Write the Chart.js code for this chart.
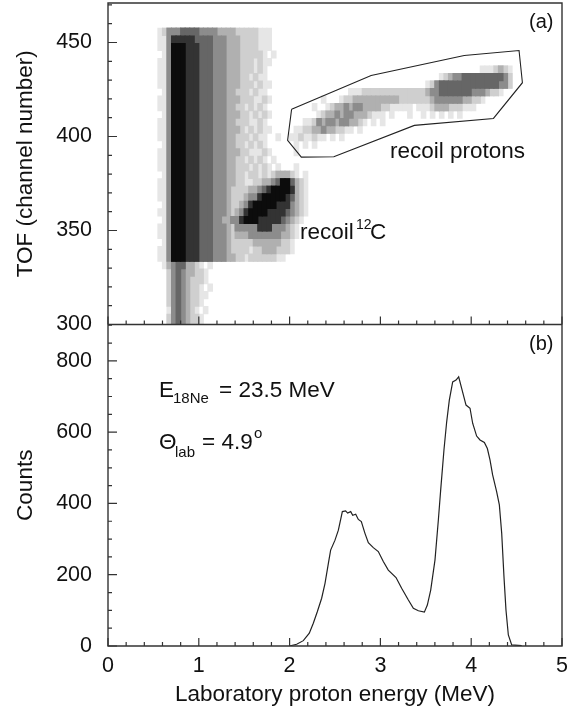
<!DOCTYPE html>
<html>
<head>
<meta charset="utf-8">
<script src="https://cdn.jsdelivr.net/npm/chart.js@4"></script>
<style>
  html, body { margin: 0; background: #fff; }
  canvas { display: block; }
</style>
</head>
<body>
<canvas id="chart" width="580" height="708"></canvas>
<script>
// tick values
const xTicks = [0, 1, 2, 3, 4, 5];
const xMinor = [0.2, 0.4, 0.6, 0.8, 1.2, 1.4, 1.6, 1.8, 2.2, 2.4, 2.6, 2.8, 3.2, 3.4, 3.6, 3.8, 4.2, 4.4, 4.6, 4.8];
const tofTicks = [300, 350, 400, 450];
const tofMinor = [310, 320, 330, 340, 360, 370, 380, 390, 410, 420, 430, 440, 460, 470];
const countTicks = [0, 200, 400, 600, 800];
const countMinor = [50, 100, 150, 250, 300, 350, 450, 500, 550, 650, 700, 750, 850, 900];

// proton spectrum, panel b
const curveX = [1.997, 2.078, 2.151, 2.217, 2.261, 2.305, 2.353, 2.390, 2.427, 2.452, 2.500, 2.537, 2.581, 2.617, 2.639, 2.673, 2.695, 2.728, 2.757, 2.790, 2.830, 2.867, 2.922, 2.977, 3.032, 3.087, 3.172, 3.234, 3.308, 3.363, 3.418, 3.484, 3.517, 3.554, 3.601, 3.638, 3.664, 3.700, 3.730, 3.759, 3.796, 3.833, 3.862, 3.895, 3.943, 3.987, 4.016, 4.060, 4.097, 4.145, 4.178, 4.207, 4.236, 4.280, 4.310, 4.336, 4.361, 4.383, 4.409, 4.446, 4.556];
const curveY = [0, 5, 15, 36, 64, 96, 134, 176, 232, 269, 297, 325, 377, 379, 373, 377, 367, 370, 355, 349, 316, 290, 276, 265, 237, 213, 192, 162, 129, 106, 99, 95, 115, 157, 241, 353, 438, 550, 629, 690, 741, 746, 755, 723, 676, 667, 625, 589, 578, 571, 554, 522, 480, 433, 396, 316, 194, 101, 31, 3, 1];

// gate drawn round the recoil protons, panel a
const gateX = [2.022, 1.978, 2.129, 2.487, 3.374, 4.245, 4.564, 4.527, 3.923, 2.898, 2.022];
const gateY = [414.5, 397.9, 389.0, 389.2, 405.9, 409.6, 428.6, 445.7, 443.1, 432.4, 414.5];

// 2D histogram, panel a. First row is the lowest in channel, each char is a grey level,
// one char = 0.05 MeV from 0.5 MeV, one row = 4 channels from 297.6
const histX0 = 0.5, histDx = 0.05, histY0 = 297.6, histDy = 4;
const histRows = [
  "...24 54322 1",
  "...24 54322 1",
  "...14 54321 .1",
  "...24 54322 1",
  "...24 54322 11",
  "...24 54322 1.1",
  "...24 54322 21",
  "...24 54332 21",
  "..134 55332 1.1",
  ".1147 77666 55544 43322 12222 2211.",
  ".1147 77666 55544 43222 21223 33222 1....",
  "..147 77666 55544 43222 22333 33322 1....",
  ".1147 77666 55544 43233 34444 44433 21...",
  ".1147 77666 55544 43244 44466 64443 21...",
  "..147 77666 55544 33446 77766 66654 321..",
  ".1147 77666 55544 43234 67777 66665 4321.",
  "..147 77666 55544 43223 46777 77666 4321.",
  ".1147 77666 55544 43222 34467 77776 5321.",
  ".1147 77666 55544 43222 23345 67777 6321.",
  ".1147 77666 55544 43322 11223 34577 5321.",
  "..147 77666 55544 43322 12212 12333 21.1.",
  ".1147 77666 55544 43322 21212 1.1.. .1",
  ".1147 77666 55544 43322 12121 .1...",
  ".1147 77666 55544 43332 21112 1.... .1...",
  "..147 77666 55544 43322 12121 ..... .1.1. 1....",
  ".1147 77666 55544 43322 21211 ..1.. 11211 211.1 .1...",
  ".1147 77666 55544 43332 12121 1.... .1122 33433 2211. 1....",
  ".1147 77666 55544 43322 21121 ..... ...11 24344 34433 21.1. 1....",
  "..147 77666 55544 43332 21212 1.... ..... .1233 43443 33211 1.1.. .1..1 .1.1. 1.1..",
  ".1147 77666 55544 43322 12121 ..... ..... 1..12 33434 43333 22111 11.11 12333 22211 1....",
  ".1147 77666 55544 43332 22112 1.... ..... ..1.. .1223 33333 33332 22222 23444 44433 221..",
  "..147 77666 55544 43322 21211 ..... ..... ..... ...11 12222 22222 22222 34455 55555 44432 21...",
  ".1147 77666 55544 43332 22121 1.... ..... ..... ..... ..... ..... ..... 12455 55555 55555 5442.",
  ".1147 77666 55544 43332 21211 ..... ..... ..... ..... ..... ..... ..... ...12 34455 55555 5542.",
  ".1147 77666 55544 43332 22121 ..... ..... ..... ..... ..... ..... ..... ..... ..... ..111 2321.",
  ".1147 77666 55544 43332 22121 1",
  "..147 77666 55544 43332 22221 .1",
  ".1147 77666 55544 43332 22211 1",
  ".1146 66665 55544 43332 22211 1",
  ".1244 45555 44443 33322 22211 1"
].map(r => r.replace(/ /g, ""));
const greys = ["#e6e6e6", "#cfcfcf", "#b0b0b0", "#8c8c8c", "#666666", "#333333", "#0c0c0c"];

// one floating bar per vertical run of cells at or above a grey level
function levelBars(level) {
  const bars = [];
  const cols = Math.max(...histRows.map(r => r.length));
  for (let i = 0; i < cols; i++) {
    let start = null;
    for (let k = 0; k <= histRows.length; k++) {
      const on = k < histRows.length && Number(histRows[k][i]) >= level;
      if (on && start === null) start = k;
      if (!on && start !== null) {
        bars.push({
          x: histX0 + histDx * (i + 0.5),
          y: [histY0 + histDy * start, histY0 + histDy * k]
        });
        start = null;
      }
    }
  }
  return bars;
}

const ink = "#333";
const font = '"Liberation Sans"';
const labelSize = 22.5;
const tickSize = 21.5;

const datasets = [
  {
    type: "line",
    data: curveX.map((x, i) => ({ x: x, y: curveY[i] })),
    yAxisID: "yB",
    borderColor: "#222",
    borderWidth: 1.2,
    pointRadius: 0,
    tension: 0
  },
  {
    type: "line",
    data: gateX.map((x, i) => ({ x: x, y: gateY[i] })),
    yAxisID: "yA",
    borderColor: "#222",
    borderWidth: 1.1,
    pointRadius: 0,
    tension: 0
  }
];
for (let level = greys.length; level >= 1; level--) {
  datasets.push({
    type: "bar",
    data: levelBars(level),
    yAxisID: "yA",
    backgroundColor: greys[level - 1],
    barThickness: 5,
    grouped: false
  });
}

// inward ticks, frame and the text inside the panels
const framePlugin = {
  id: "frame",
  afterDraw(chart) {
    const { ctx, scales: { x, yA, yB } } = chart;
    ctx.save();
    ctx.strokeStyle = ink;
    ctx.lineWidth = 1.4;
    ctx.beginPath();
    ctx.rect(x.left, yA.top, x.right - x.left, yB.bottom - yA.top);
    ctx.moveTo(x.left, yA.bottom);
    ctx.lineTo(x.right, yA.bottom);
    ctx.stroke();

    ctx.lineWidth = 1.2;
    ctx.beginPath();
    const hTick = (scale, v, len) => {
      const y = scale.getPixelForValue(v);
      ctx.moveTo(x.left, y);
      ctx.lineTo(x.left + len, y);
    };
    const vTick = (v, len) => {
      const px = x.getPixelForValue(v);
      [yA.bottom, yB.bottom].forEach(y => {
        ctx.moveTo(px, y);
        ctx.lineTo(px, y - len);
      });
    };
    tofTicks.forEach(v => hTick(yA, v, 9));
    tofMinor.forEach(v => hTick(yA, v, 4));
    countTicks.forEach(v => hTick(yB, v, 9));
    countMinor.forEach(v => hTick(yB, v, 4));
    xTicks.forEach(v => vTick(v, 8));
    xMinor.forEach(v => vTick(v, 4));
    ctx.stroke();

    ctx.fillStyle = "#111";
    ctx.textBaseline = "alphabetic";
    const text = (s, px, py, size) => {
      ctx.font = size + "px " + font;
      ctx.fillText(s, px, py);
    };
    text("(a)", 529, 28, 20);
    text("(b)", 529, 350, 20);
    text("recoil protons", 390, 158, labelSize);
    text("recoil", 300, 239, labelSize);
    text("12", 356, 229, 14);
    text("C", 370, 239, labelSize);
    text("E", 159, 397, labelSize);
    text("18Ne", 173, 403, 15);
    text("= 23.5 MeV", 219, 397, labelSize);
    text("\u0398", 159, 449, labelSize);
    text("lab", 175, 457, 15);
    text("= 4.9", 202, 449, labelSize);
    text("o", 254, 438, 15);
    ctx.restore();
  }
};

// the layout would otherwise leave room for half a tick label at the panel ends
function fitY(s) {
  s.width = 108;
  s.paddingTop = 0;
  s.paddingBottom = 0;
}

new Chart(document.getElementById("chart"), {
  data: { datasets: datasets },
  plugins: [framePlugin],
  options: {
    responsive: false,
    animation: false,
    layout: { padding: { top: 3, right: 18, left: 0, bottom: 0 } },
    font: { family: font },
    plugins: { legend: { display: false }, tooltip: { enabled: false } },
    scales: {
      x: {
        type: "linear",
        offset: false,
        min: 0,
        max: 5,
        grid: { display: false, drawTicks: false },
        border: { display: false },
        afterBuildTicks: s => { s.ticks = xTicks.map(v => ({ value: v })); },
        afterFit: s => { s.height = 62; s.paddingLeft = 0; s.paddingRight = 0; },
        ticks: { padding: 7, color: "#111", maxRotation: 0, font: { family: font, size: tickSize } },
        title: {
          display: true,
          text: "Laboratory proton energy (MeV)",
          color: "#111",
          font: { family: font, size: labelSize },
          padding: { top: 0, bottom: 0 }
        }
      },
      yB: {
        type: "linear",
        position: "left",
        stack: "panels",
        stackWeight: 1,
        min: 0,
        max: 902,
        grid: { display: false, drawTicks: false },
        border: { display: false },
        afterBuildTicks: s => { s.ticks = countTicks.map(v => ({ value: v })); },
        afterFit: fitY,
        ticks: { padding: 16, color: "#111", font: { family: font, size: tickSize } },
        title: {
          display: true,
          text: "Counts",
          color: "#111",
          font: { family: font, size: labelSize },
          padding: { top: 12, bottom: 0 }
        }
      },
      yA: {
        type: "linear",
        position: "left",
        stack: "panels",
        stackWeight: 1,
        min: 300,
        max: 471,
        grid: { display: false, drawTicks: false },
        border: { display: false },
        afterBuildTicks: s => { s.ticks = tofTicks.map(v => ({ value: v })); },
        afterFit: fitY,
        ticks: { padding: 16, color: "#111", font: { family: font, size: tickSize } },
        title: {
          display: true,
          text: "TOF (channel number)",
          color: "#111",
          font: { family: font, size: labelSize },
          padding: { top: 12, bottom: 0 }
        }
      }
    }
  }
});
</script>
</body>
</html>
